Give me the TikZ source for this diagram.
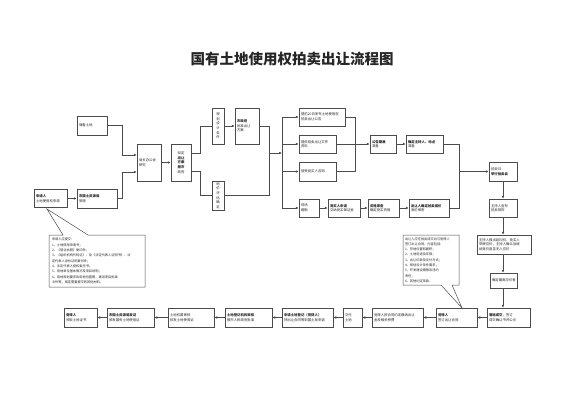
\documentclass[tikz,border=0pt]{standalone}
\usepackage{fontspec}
\newfontfamily\cjk{Noto Sans CJK SC}
\usetikzlibrary{arrows.meta}
\tikzset{
  box/.style={draw=black!70, fill=white, line width=0.5pt, inner sep=1.5pt, align=left,
    text=black!85, font=\cjk\fontsize{3.4}{4.6}\selectfont},
  vbox/.style={box, align=center},
  note/.style={align=left, text=black!85, font=\cjk\fontsize{3.2}{5.3}\selectfont},
  line/.style={draw=black!70, line width=0.5pt},
  arr/.style={line, -{Latex[length=3pt,width=2.6pt]}},
}
\begin{document}
\begin{tikzpicture}[x=1pt, y=-1pt]
\useasboundingbox (0,0) rectangle (565,400);

% title
\node[font=\cjk\bfseries\fontsize{14.5}{16}\selectfont, text=black!85] (title) at (292,59) {国有土地使用权拍卖出让流程图};

% application
\node[box, minimum width=30, minimum height=19, text width=26pt] (chubei) at (92,125.5) {储备土地};
\node[box, minimum width=33, minimum height=18, text width=29pt] (shenqing) at (50.5,198.5) {\textbf{申请人}\\土地使用权申请};
\node[box, minimum width=40, minimum height=19, text width=36pt] (guotu) at (97,198.5) {\textbf{市国土资源局}\\受理};
\node[box, minimum width=24, minimum height=37, text width=20pt] (juzhang) at (149,162.5) {局长办公会\\研究};
\node[vbox, minimum width=20, minimum height=37, text width=16pt] (fangan) at (181,162.5) {拟定\\\textbf{出让}\\\textbf{方案}\\\textbf{报市}\\政府};
\node[vbox, minimum width=12, minimum height=36, text width=8pt] (guihua) at (218,126) {规\\划\\设\\计\\条\\件};
\node[vbox, minimum width=12, minimum height=29, text width=8pt] (dijia) at (218,195.5) {地\\价\\评\\估\\确\\定};
\node[box, minimum width=24, minimum height=36, text width=20pt] (shizf) at (247,126) {\textbf{市政府}\\批准出让\\方案};

% announcement
\node[box, minimum width=46, minimum height=18, text width=42pt] (gonggao1) at (322,117) {提前20日发布土地使用权\\拍卖出让公告};
\node[box, minimum width=37, minimum height=18, text width=33pt] (wenjian) at (317.5,144) {提供拍卖出让文件\\资料};
\node[box, minimum width=37, minimum height=19, text width=33pt] (zixun) at (317.5,171.5) {接受竞买人咨询};
\node[box, minimum width=20, minimum height=18, text width=16pt] (kancha) at (309,208) {现场\\踏勘};
\node[box, minimum width=32, minimum height=18, text width=28pt] (baoming) at (344,208) {\textbf{竞买人申请}\\交纳竞买保证金};
\node[box, minimum width=31, minimum height=18, text width=27pt] (shencha) at (383.5,208) {\textbf{资格审查}\\确定竞买资格};
\node[box, minimum width=26, minimum height=18, text width=22pt] (gongshi) at (383,144) {\textbf{公告期满}\\准备};
\node[box, minimum width=37, minimum height=18, text width=33pt] (queding) at (424.5,144) {\textbf{确定主持人、地点}\\准备};
\node[box, minimum width=40, minimum height=18, text width=36pt] (dijia2) at (429,208) {\textbf{出让人确定拍卖底价}\\底价保密};

% auction
\node[box, minimum width=28, minimum height=19, text width=24pt] (paimaihui) at (503,171.5) {拍卖日\\\textbf{举行拍卖会}};
\node[box, minimum width=28, minimum height=18, text width=24pt] (guize) at (503,208) {主持人宣布\\拍卖规则};
\node[box, minimum width=54, minimum height=19, text width=50pt] (yingjia) at (504,244.5) {主持人报出起叫价，竞买人\\举牌应价，主持人确认后继\\续竞价直至无人应价};
\node[box, minimum width=27, minimum height=15, text width=23pt] (zuigao) at (503.5,280.5) {确定最高应价者};

% bottom row
\node[box, minimum width=43, minimum height=19, text width=39pt] (chengjiao) at (508.5,317.5) {\textbf{落槌成交}，签订\\成交确认书并公示};
\node[box, minimum width=41, minimum height=19, text width=37pt] (qianding) at (456.5,317.5) {\textbf{竞得人}\\签订出让合同};
\node[box, minimum width=51, minimum height=19, text width=47pt] (jiaokuan) at (397.5,317.5) {竞得人按合同约定缴纳出让\\金及相关税费};
\node[box, minimum width=19, minimum height=19, text width=15pt] (jiaodi) at (352.5,317.5) {交付\\土地};
\node[box, minimum width=51, minimum height=19, text width=47pt] (dengji) at (307.5,317.5) {\textbf{申请土地登记（竞得人）}\\持出让合同等到国土局申请};
\node[box, minimum width=47, minimum height=19, text width=43pt] (shenhe) at (248.5,317.5) {\textbf{土地登记机构审核}\\报市人民政府批准};
\node[box, minimum width=46, minimum height=19, text width=42pt] (quanshu) at (191,317.5) {土地权属审核\\核发土地使用证};
\node[box, minimum width=47, minimum height=19, text width=43pt] (fazheng) at (130.5,317.5) {\textbf{市国土资源局发证}\\颁发国有土地使用证};
\node[box, minimum width=33, minimum height=19, text width=29pt] (lingzheng) at (80.5,317.5) {\textbf{竞得人}\\领取土地证书};

% callouts
\draw[line, fill=white] (49,235) -- (63,235) -- (47,209) -- (88,235) -- (145,235) -- (145,287) -- (49,287) -- cycle;
\node[note, text width=90pt] (lnote) at (97,261) {申请人应提交：\\1、土地使用申请书；\\2、《营业执照》复印件；\\3、《组织机构代码证》、及《法定代表人证明书》、法\\定代表人身份证明复印件；\\4、法定代表人授权委托书；\\5、用地单位基本情况及项目说明；\\6、用地规划要求及用地位置图，建设项目批准\\文件等，规定需要提交的其他材料。};
\draw[line, fill=white] (403,235) -- (459,235) -- (459,285) -- (452,285) -- (462,308) -- (441,285) -- (403,285) -- cycle;
\node[note, text width=52pt] (rnote) at (431,260) {出让人应在拍卖成交后与竞得人\\签订出让合同，内容包括：\\1、宗地位置和面积；\\2、土地用途及年限；\\3、出让价款及支付方式；\\4、规划设计条件要求；\\5、开发建设期限及违约\\责任；\\6、其他约定条款。};

% connectors, left part
\draw[arr] (chubei.east) -- ++(15,0) |- ([yshift=7.5pt]juzhang.west);
\draw[arr] (shenqing.east) -- (guotu.west);
\draw[arr] (guotu.east) -- ++(5,0) |- ([yshift=-9.5pt]juzhang.west);
\draw[arr] (juzhang.east) -- (fangan.west);
\draw[line] ([yshift=9pt]fangan.east) -- ++(9,0) |- (guihua.west);
\draw[line] ([yshift=-9pt]fangan.east) -- ++(9,0) |- (dijia.west);
\draw[arr] (guihua.east) -- (shizf.west);

% connectors, middle
\coordinate (m1) at (269,153);
\coordinate (bus) at (282,153);
\draw[line] (shizf.east) -| (m1);
\draw[line] (dijia.east) -| (m1);
\draw[arr] (m1) -- (bus);
\draw[line] (bus |- gonggao1.west) -- (bus |- kancha.west);
\foreach \n in {gonggao1, wenjian, zixun, kancha}
  \draw[arr] (bus |- \n.west) -- (\n.west);

\coordinate (m2) at (355,144);
\draw[line] (gonggao1.east) -| (m2 |- zixun.east) -- (zixun.east);
\draw[line] (wenjian.east) -- (m2);
\draw[arr] (m2) -- (gongshi.west);
\draw[arr] (gongshi.east) -- (queding.west);
\foreach \a/\b in {kancha/baoming, baoming/shencha, shencha/dijia2}
  \draw[arr] (\a.east) -- (\b.west);

\coordinate (m3) at (459,171.5);
\draw[line] (queding.east) -| (m3 |- dijia2.east) -- (dijia2.east);
\draw[arr] (m3) -- (paimaihui.west);

% connectors, right column
\draw[arr] (paimaihui.south) -- (guize.north);
\draw[arr] (guize.south) -- (guize.south |- yingjia.north);
\draw[arr] (guize.south |- yingjia.south) -- (guize.south |- zuigao.north);
\draw[arr] (guize.south |- zuigao.south) -- (guize.south |- chengjiao.north);

% connectors, bottom row
\foreach \a/\b in {chengjiao/qianding, qianding/jiaokuan, jiaokuan/jiaodi, jiaodi/dengji,
  dengji/shenhe, shenhe/quanshu, quanshu/fazheng, fazheng/lingzheng}
  \draw[arr] (\a.west) -- (\b.east);
\end{tikzpicture}
\end{document}
